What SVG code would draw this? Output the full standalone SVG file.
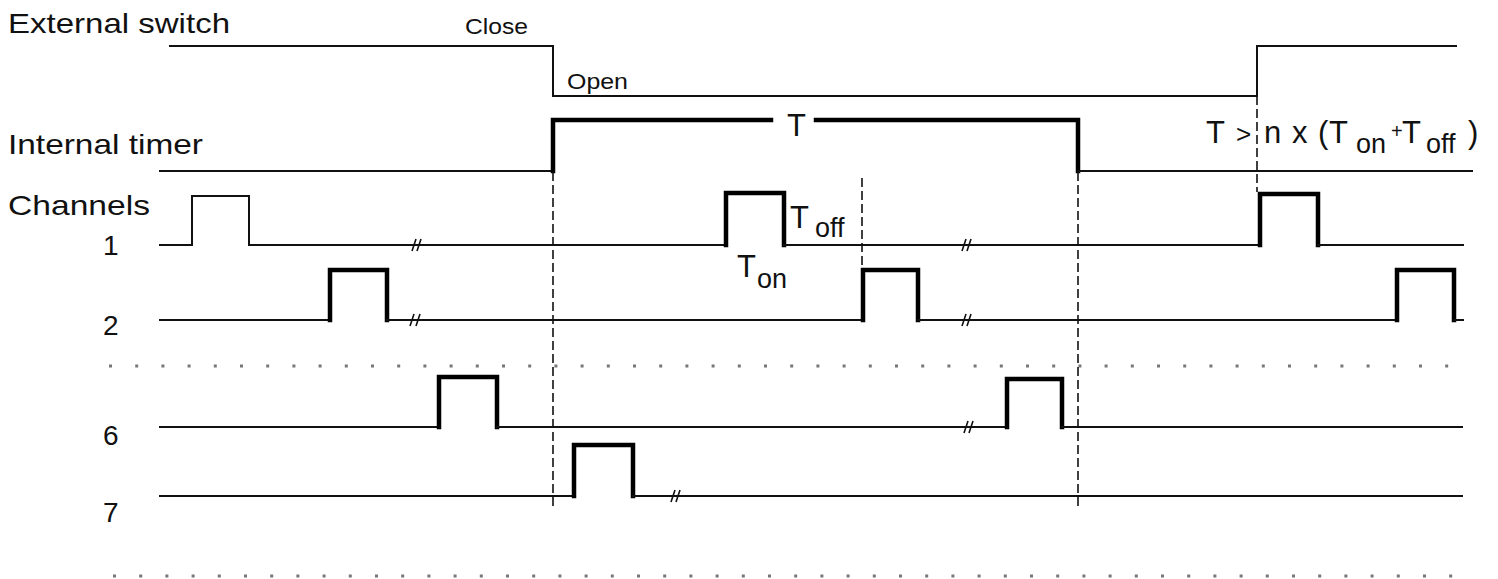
<svg xmlns="http://www.w3.org/2000/svg" width="1498" height="579" viewBox="0 0 1498 579">
<style>
.thin{fill:none;stroke:#111;stroke-width:2;stroke-linejoin:miter;stroke-linecap:square}
.thick{fill:none;stroke:#000;stroke-width:4.5;stroke-linejoin:miter;stroke-linecap:square}
.dash{fill:none;stroke:#111;stroke-width:1.6;stroke-dasharray:9 4}
.dots{fill:none;stroke:#777;stroke-width:3;stroke-dasharray:3 23.2}
.brk{fill:none;stroke:#111;stroke-width:1.6}
.lbl{font-family:"Liberation Sans",Arial,sans-serif;font-size:28px;fill:#111}
.sm{font-family:"Liberation Sans",Arial,sans-serif;font-size:22px;fill:#111}
.tt{font-family:"Liberation Sans",Arial,sans-serif;font-size:31px;fill:#111}
.sub{font-size:27px}
</style>
<rect width="1498" height="579" fill="#fff"/>

<g id="switch">
  <text class="lbl" x="8" y="33" textLength="222" lengthAdjust="spacingAndGlyphs">External switch</text>
  <text class="sm" x="465" y="34" textLength="63" lengthAdjust="spacingAndGlyphs">Close</text>
  <text class="sm" x="567" y="89" textLength="61" lengthAdjust="spacingAndGlyphs">Open</text>
  <path class="thin" d="M170,46 H553 V96 H1257 V46 H1456"/>
</g>

<g id="timer">
  <text class="lbl" x="8" y="154" textLength="195" lengthAdjust="spacingAndGlyphs">Internal timer</text>
  <path class="thin" d="M160,171 H553"/>
  <path class="thick" d="M553,171 V120 H771"/>
  <path class="thick" d="M816,120 H1078 V171"/>
  <path class="thin" d="M1078,171 H1472"/>
  <text class="tt" x="787" y="136">T</text>
  <text class="tt" y="143"><tspan x="1206">T</tspan><tspan x="1236" font-size="26">&gt;</tspan><tspan x="1264">n</tspan><tspan x="1292">x</tspan><tspan x="1318">(</tspan><tspan x="1329">T</tspan><tspan class="sub" x="1356" y="153">on</tspan><tspan x="1391" y="138" font-size="20">+</tspan><tspan x="1402" y="143">T</tspan><tspan class="sub" x="1426" y="153">off</tspan><tspan x="1468" y="143">)</tspan></text>
</g>

<g id="channel1">
  <text class="lbl" x="8" y="215" textLength="142" lengthAdjust="spacingAndGlyphs">Channels</text>
  <text class="lbl" x="103" y="255">1</text>
  <path class="thin" d="M160,245 H192 V196 H249 V245 H726"/>
  <path class="thick" d="M726,245 V193 H784 V245"/>
  <path class="thin" d="M784,245 H1260"/>
  <path class="thick" d="M1260,245 V194 H1318 V245"/>
  <path class="thin" d="M1318,245 H1463"/>
  <text class="tt" x="790" y="228">T<tspan class="sub" x="815" y="237">off</tspan></text>
  <text class="tt" x="737" y="277">T<tspan class="sub" x="757" y="288">on</tspan></text>
</g>

<g id="channel2">
  <text class="lbl" x="103" y="335">2</text>
  <path class="thin" d="M160,320 H330"/>
  <path class="thick" d="M330,320 V270 H387 V320"/>
  <path class="thin" d="M387,320 H863"/>
  <path class="thick" d="M863,320 V270 H918 V320"/>
  <path class="thin" d="M918,320 H1397"/>
  <path class="thick" d="M1397,320 V270 H1454 V320"/>
  <path class="thin" d="M1454,320 H1463"/>
</g>

<g id="separators">
  <path class="dots" d="M109,366 H1452"/>
  <path class="dots" d="M113,576 H1456"/>
</g>

<g id="channel6">
  <text class="lbl" x="103" y="445">6</text>
  <path class="thin" d="M160,427 H439"/>
  <path class="thick" d="M439,427 V377 H497 V427"/>
  <path class="thin" d="M497,427 H1007"/>
  <path class="thick" d="M1007,427 V379 H1062 V427"/>
  <path class="thin" d="M1062,427 H1462"/>
</g>

<g id="channel7">
  <text class="lbl" x="103" y="522">7</text>
  <path class="thin" d="M160,496 H574"/>
  <path class="thick" d="M574,496 V445 H633 V496"/>
  <path class="thin" d="M633,496 H1462"/>
</g>

<g id="breaks">
  <path class="brk" d="M412,251 L416,239 M417,251 L421,239"/>
  <path class="brk" d="M962,251 L966,239 M967,251 L971,239"/>
  <path class="brk" d="M410,326 L414,314 M416,326 L420,314"/>
  <path class="brk" d="M962,326 L966,314 M967,326 L971,314"/>
  <path class="brk" d="M964,433 L968,421 M969,433 L973,421"/>
  <path class="brk" d="M671,502 L675,490 M676,502 L680,490"/>
</g>

<g id="connectors">
  <path class="dash" d="M553,172 V507"/>
  <path class="dash" d="M1078,172 V507"/>
  <path class="dash" d="M862,178 V268"/>
  <path class="dash" d="M1257,96 V192"/>
</g>
</svg>
